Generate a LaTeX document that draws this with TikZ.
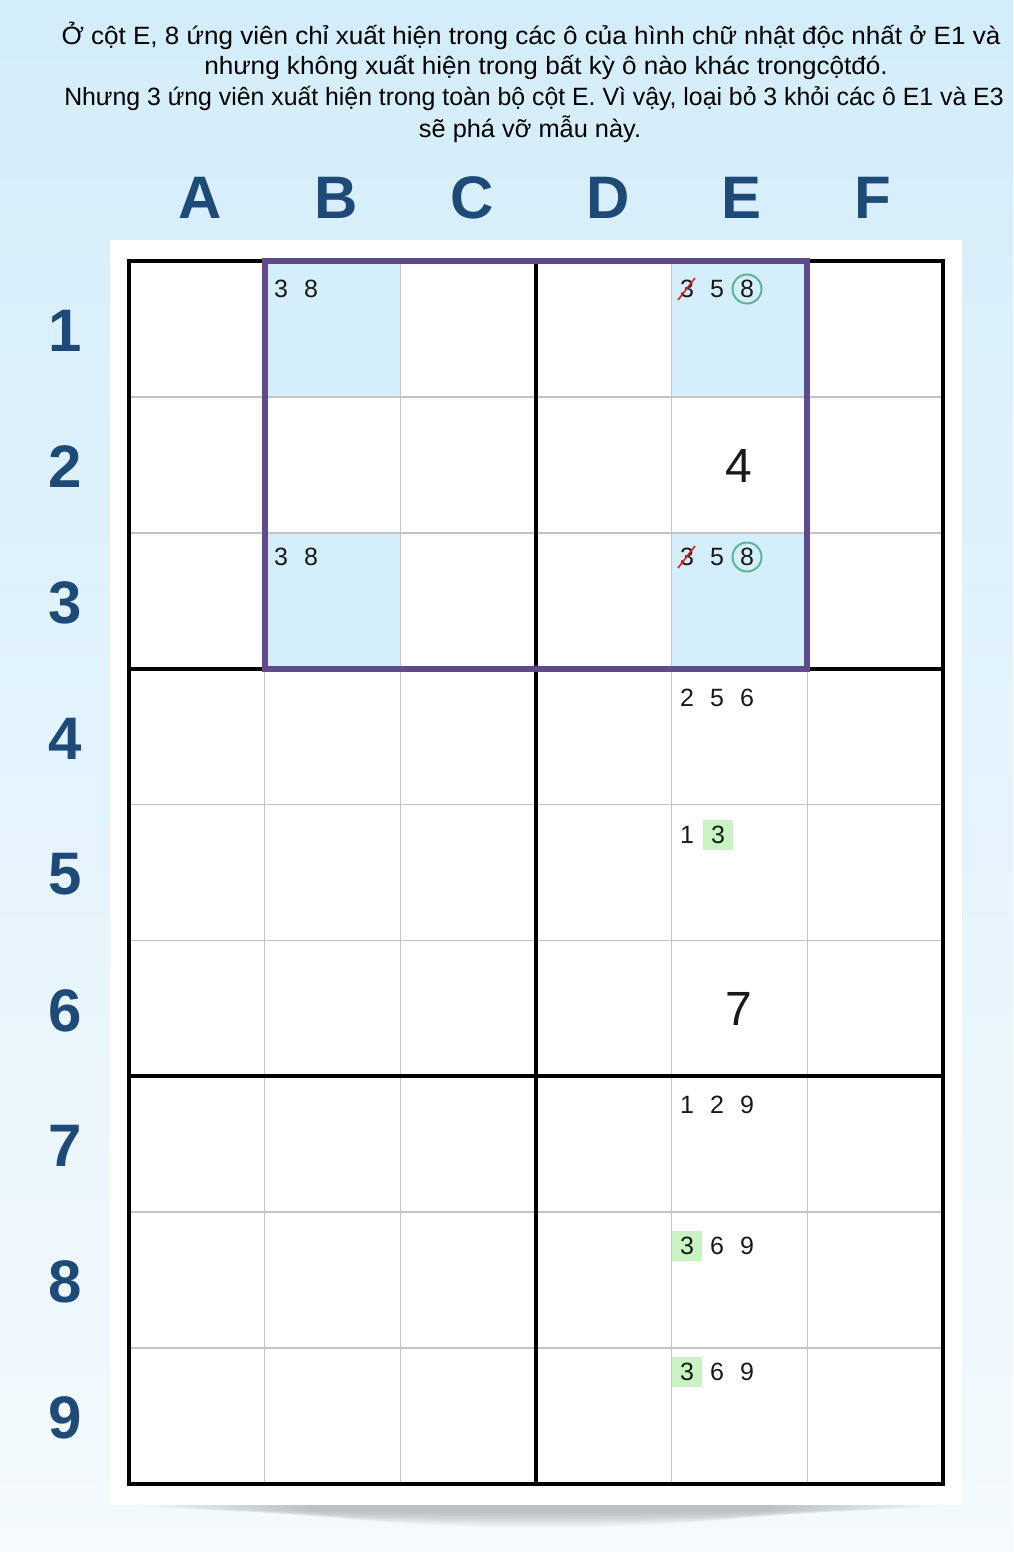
\documentclass[tikz,border=0pt]{standalone}
\usepackage{fontspec}
\setmainfont{Liberation Sans}
\definecolor{bgtop}{HTML}{D3EDFA}
\definecolor{bgbot}{HTML}{F4FAFD}
\definecolor{hdr}{HTML}{1E4A78}
\definecolor{cellblue}{HTML}{D4EEFB}
\definecolor{purp}{HTML}{5E4A8C}
\definecolor{thinc}{HTML}{C4C4C4}
\definecolor{hlgreen}{HTML}{C9F3C2}
\definecolor{circc}{HTML}{5BB596}
\definecolor{strikec}{HTML}{E02020}
\begin{document}
\begin{tikzpicture}[x=1pt,y=-1pt,
  titletext/.style={font=\fontsize{25}{30}\selectfont, text=black, inner sep=0pt},
  hdrlabel/.style={font=\fontsize{60}{60}\bfseries\selectfont, text=hdr, inner sep=0pt},
  cand/.style={font=\fontsize{25}{25}\selectfont, text=black!90, inner sep=0pt},
  bigdigit/.style={font=\fontsize{48}{48}\selectfont, text=black!90, inner sep=0pt},
  hlbox/.style={fill=hlgreen, minimum size=30pt, inner sep=0pt},
  thinline/.style={draw=thinc, line width=1.6pt},
  thickline/.style={draw=black, line width=4pt},
  purpbox/.style={draw=purp, line width=6pt},
  ringmark/.style={draw=circc, line width=2pt, circle, minimum size=29pt, inner sep=0pt},
  strikemark/.style={draw=strikec, line width=1.6pt}
]
\def\xo{129}\def\yo{261}\def\cw{135.67}\def\rh{135.89}
\useasboundingbox (0,0) rectangle (1013,1552);
\shade[top color=bgtop, bottom color=bgbot] (0,0) rectangle (1013,1552);
% soft shadow under panel
\foreach \k in {0,...,9}{
  \fill[black, opacity=0.022] (540,1505) ellipse ({400-\k*18} and {8+\k*1.6});
}
% white panel
\fill[white] (110,240) rectangle (962,1505);

% title
\node[titletext] (t1) at (531,36) {\scalebox{1.042}[1]{Ở cột E, 8 ứng viên chỉ xuất hiện trong các ô của hình chữ nhật độc nhất ở E1 và}};
\node[titletext] (t2) at (546,67) {\scalebox{1.044}[1]{nhưng không xuất hiện trong bất kỳ ô nào khác trongcộtđó.}};
\node[titletext] (t3) at (534,98) {\scalebox{0.993}[1]{Nhưng 3 ứng viên xuất hiện trong toàn bộ cột E. Vì vậy, loại bỏ 3 khỏi các ô E1 và E3}};
\node[titletext] (t4) at (530,129) {\scalebox{1.015}[1]{sẽ phá vỡ mẫu này.}};

% highlighted cells
\foreach \c/\r in {1/0,4/0,1/2,4/2}{
  \fill[cellblue] ({\xo+\c*\cw},{\yo+\r*\rh}) rectangle ({\xo+(\c+1)*\cw},{\yo+(\r+1)*\rh});
}
% thin grid
\foreach \i in {1,2,4,5}{
  \draw[thinline] ({\xo+\i*\cw},\yo) -- ({\xo+\i*\cw},{\yo+9*\rh});
}
\foreach \j in {1,2,4,5,7,8}{
  \draw[thinline] (\xo,{\yo+\j*\rh}) -- ({\xo+6*\cw},{\yo+\j*\rh});
}
% thick grid
\draw[thickline] ({\xo+3*\cw},\yo) -- ({\xo+3*\cw},{\yo+9*\rh});
\draw[thickline] (\xo,{\yo+3*\rh}) -- ({\xo+6*\cw},{\yo+3*\rh});
\draw[thickline] (\xo,{\yo+6*\rh}) -- ({\xo+6*\cw},{\yo+6*\rh});
\draw[thickline] (\xo,\yo) rectangle ({\xo+6*\cw},{\yo+9*\rh});
% purple rectangle
\draw[purpbox] ({\xo+\cw},\yo) rectangle ({\xo+5*\cw},{\yo+3*\rh});

% column labels
\foreach \x/\L in {200/A,336/B,472/C,608/D,741/E,873/F}{
  \node[hdrlabel] (col\L) at (\x,198) {\L};
}
% row labels
\foreach \r in {1,...,9}{
  \node[hdrlabel] (row\r) at (65,{\yo+(\r-0.5)*\rh+2}) {\r};
}

% green highlight boxes
\node[hlbox] (h5) at (718,835) {};
\node[hlbox] (h8) at (687,1246) {};
\node[hlbox] (h9) at (687,1372) {};

% candidates
\node[cand] (b1a) at (281,289) {3};
\node[cand] (b1b) at (311,289) {8};
\node[cand] (b3a) at (281,557) {3};
\node[cand] (b3b) at (311,557) {8};

\node[cand] (e1a) at (687,289) {3};
\node[cand] (e1b) at (717,289) {5};
\node[cand] (e1c) at (747,289) {8};
\node[ringmark] (e1r) at (747,289) {};
\draw[strikemark] (678,300) -- (695,278);

\node[cand] (e3a) at (687,557) {3};
\node[cand] (e3b) at (717,557) {5};
\node[cand] (e3c) at (747,557) {8};
\node[ringmark] (e3r) at (747,557) {};
\draw[strikemark] (678,568) -- (695,546);

\node[bigdigit] (e2) at (739,466) {4};
\node[bigdigit] (e6) at (739,1009) {7};

\node[cand] (e4a) at (687,698) {2};
\node[cand] (e4b) at (717,698) {5};
\node[cand] (e4c) at (747,698) {6};

\node[cand] (e5a) at (687,835) {1};
\node[cand] (e5b) at (718,835) {3};

\node[cand] (e7a) at (687,1105) {1};
\node[cand] (e7b) at (717,1105) {2};
\node[cand] (e7c) at (747,1105) {9};

\node[cand] (e8a) at (687,1246) {3};
\node[cand] (e8b) at (717,1246) {6};
\node[cand] (e8c) at (747,1246) {9};

\node[cand] (e9a) at (687,1372) {3};
\node[cand] (e9b) at (717,1372) {6};
\node[cand] (e9c) at (747,1372) {9};
\end{tikzpicture}
\end{document}
